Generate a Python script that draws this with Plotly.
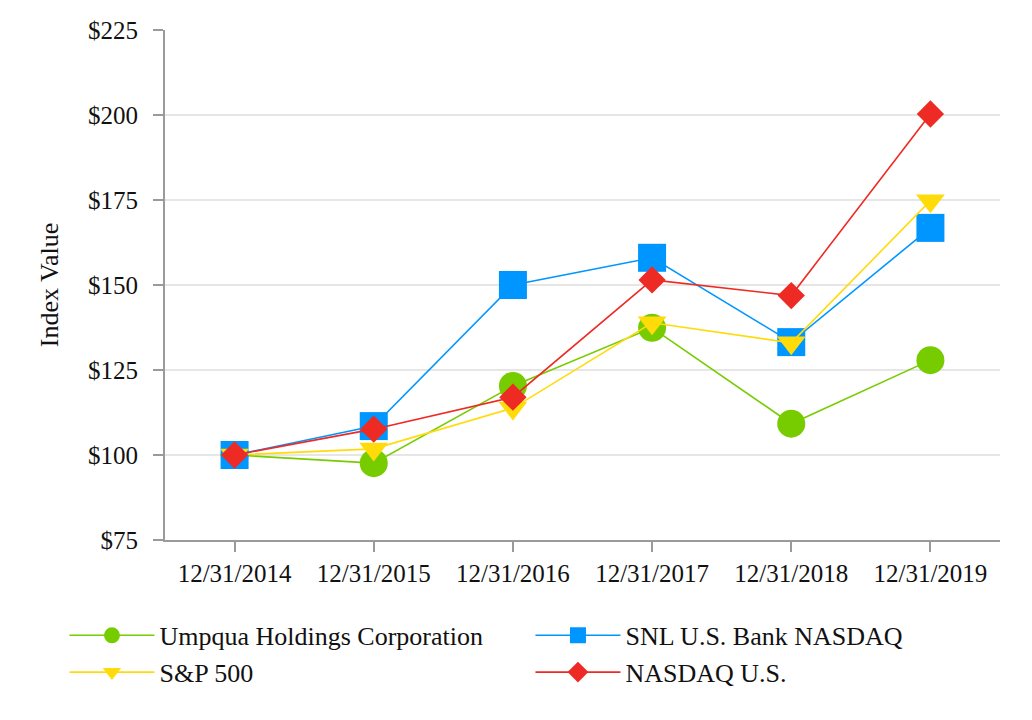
import plotly.graph_objects as go

dates = ["12/31/2014", "12/31/2015", "12/31/2016", "12/31/2017", "12/31/2018", "12/31/2019"]
umpqua = [100.0, 97.6, 120.3, 137.4, 109.2, 127.9]
snl_bank = [100.0, 108.5, 150.0, 158.0, 133.2, 166.8]
sp500 = [100.0, 101.8, 113.8, 138.9, 133.0, 174.8]
nasdaq = [100.0, 107.6, 117.0, 151.5, 146.9, 200.3]

y_ticks = [75, 100, 125, 150, 175, 200, 225]
y_tick_labels = ["$75", "$100", "$125", "$150", "$175", "$200", "$225"]

FONT = "Liberation Serif, Times New Roman, serif"

series = [
    ("Umpqua Holdings Corporation", umpqua, "#77CC00", "circle", 28),
    ("SNL U.S. Bank NASDAQ", snl_bank, "#0096FF", "square", 28),
    ("S&P 500", sp500, "#FFDB0A", "triangle-down", 25),
    ("NASDAQ U.S.", nasdaq, "#EE2A24", "diamond", 21),
]

fig = go.Figure()
for name, vals, color, sym, size in series:
    fig.add_trace(go.Scatter(
        x=dates, y=vals, name=name, mode="lines+markers",
        line=dict(color=color, width=1.6),
        marker=dict(symbol=sym, size=size, color=color, line=dict(width=0)),
    ))

fig.update_layout(
    width=1032, height=720,
    paper_bgcolor="white", plot_bgcolor="white",
    margin=dict(l=157, r=40, t=22, b=188, autoexpand=False),
    font=dict(family=FONT, size=25, color="#111111"),
    showlegend=True,
    legend=dict(
        orientation="h", x=-0.1204, xanchor="left", y=-0.141, yanchor="top",
        entrywidth=366, entrywidthmode="pixels",
        itemwidth=85, itemsizing="trace", tracegroupgap=0,
        font=dict(family=FONT, size=26, color="#111111"),
        bgcolor="rgba(0,0,0,0)",
    ),
    xaxis=dict(
        type="category", range=[-0.5, 5.5],
        showline=True, linecolor="#9a9a9a", linewidth=2,
        ticks="outside", ticklen=10, tickcolor="#9a9a9a", tickwidth=2,
        showgrid=False, zeroline=False,
        tickfont=dict(family=FONT, size=25, color="#111111"),
    ),
    yaxis=dict(
        range=[75, 225], tickvals=y_ticks, ticktext=y_tick_labels,
        showline=True, linecolor="#9a9a9a", linewidth=2,
        ticks="outside", ticklen=10, tickcolor="#9a9a9a", tickwidth=2,
        showgrid=True, gridcolor="#e6e6e6", gridwidth=2,
        zeroline=False, ticklabelstandoff=10,
        tickfont=dict(family=FONT, size=25, color="#111111"),
        title=dict(text="Index Value", font=dict(family=FONT, size=26, color="#111111"), standoff=22),
    ),
)

fig.write_html("out.html")
